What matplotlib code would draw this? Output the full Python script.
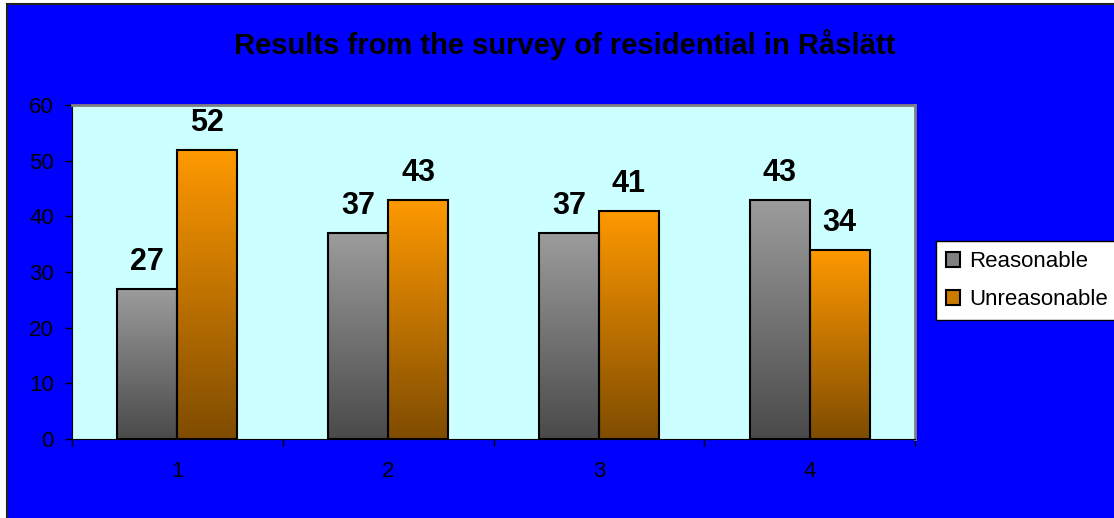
"""
Results from the survey of residential in Råslätt
"""

import numpy as np
import matplotlib.pyplot as plt
from matplotlib.patches import Rectangle, Patch
from matplotlib.colors import LinearSegmentedColormap

# 数据
categories = [1, 2, 3, 4]
reasonable = [27, 37, 37, 43]
unreasonable = [52, 43, 41, 34]
series_names = ["Reasonable", "Unreasonable"]
title = "Results from the survey of residential in Råslätt"

plt.rcParams["font.family"] = ["Liberation Sans", "DejaVu Sans"]

W, H = 1114, 518
fig = plt.figure(figsize=(W / 100, H / 100), dpi=100)
fig.patch.set_facecolor("white")

# 蓝色背景
fig.patches.append(
    Rectangle((6.5 / W, -0.05), 1.1, 1.05 - 4.5 / H, transform=fig.transFigure,
              facecolor="#0000FF", edgecolor="#202020", linewidth=1.5, zorder=-5)
)

ax = fig.add_axes([72 / W, 1 - 439 / H, (915 - 72) / W, (439 - 105) / H])
ax.set_facecolor("#CCFFFF")

x = np.arange(len(categories)) + 1
bw = 0.285
grey_cmap = LinearSegmentedColormap.from_list("g", ["#4a4a4a", "#9c9c9c"])
orange_cmap = LinearSegmentedColormap.from_list("o", ["#7f4c00", "#ff9900"])

grad = np.linspace(0, 1, 256).reshape(-1, 1)
for vals, offs, cmap in [(reasonable, -bw / 2, grey_cmap), (unreasonable, bw / 2, orange_cmap)]:
    bars = ax.bar(x + offs, vals, width=bw, facecolor="none", edgecolor="black",
                  linewidth=1.5, zorder=3)
    for b, v in zip(bars, vals):
        ax.imshow(grad, cmap=cmap, origin="lower", aspect="auto", zorder=2,
                  extent=(b.get_x(), b.get_x() + b.get_width(), 0, v))
        ax.annotate(str(v), (b.get_x() + b.get_width() / 2, v), xytext=(0, 13.5),
                    textcoords="offset points", ha="center", va="baseline",
                    fontsize=22, fontweight="bold")

ax.set_xlim(0.5, 4.5)
ax.set_ylim(0, 60)
ax.set_yticks(range(0, 61, 10))
ax.set_xticks([0.5, 1.5, 2.5, 3.5, 4.5])
ax.set_xticklabels([])
ax.set_xticks(x, minor=True)
ax.set_xticklabels([str(c) for c in categories], minor=True)
ax.tick_params(axis="x", which="minor", length=0, pad=16, labelsize=16)
ax.tick_params(axis="x", which="major", length=5, width=1)
ax.tick_params(axis="y", length=5, width=1, pad=8, labelsize=16)

for s in ["left", "bottom"]:
    ax.spines[s].set_color("black")
for s in ["top", "right"]:
    ax.spines[s].set_color("#808080")
    ax.spines[s].set_linewidth(2)

fig.text(565 / W, 1 - 45 / H, title, ha="center", va="center",
         fontsize=21, fontweight="bold")

handles = [Patch(facecolor="#808080", edgecolor="black", linewidth=1.5),
           Patch(facecolor="#cc7a00", edgecolor="black", linewidth=1.5)]
leg = fig.legend(handles, series_names, loc="lower left",
                 bbox_to_anchor=(936 / W, 1 - 320 / H), fontsize=16,
                 frameon=True, fancybox=False, framealpha=1,
                 handlelength=0.65, handleheight=0.65, handletextpad=0.4,
                 borderpad=0.45, labelspacing=0.75, borderaxespad=0)
leg.get_frame().set_edgecolor("black")
leg.get_frame().set_linewidth(1)

plt.savefig("out.png", dpi=100)
